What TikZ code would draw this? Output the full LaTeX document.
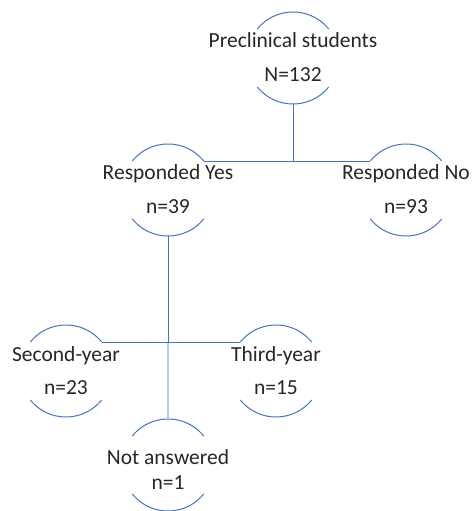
\documentclass[tikz,border=0pt]{standalone}
\usepackage{fontspec}
\setmainfont{Carlito}
\definecolor{lineblue}{HTML}{4472C4}
\definecolor{lightblue}{HTML}{B8CBEE}
\definecolor{txtgray}{HTML}{262626}
\begin{document}
\begin{tikzpicture}[x=1pt,y=1pt,
  ring/.style={circle,minimum size=92pt,inner sep=0pt,outer sep=0pt,draw=none},
  arcline/.style={draw=lineblue,line width=1pt},
  conn/.style={draw=lineblue,line width=1pt},
  connlight/.style={draw=lightblue,line width=1.2pt},
  txt/.style={anchor=base,inner sep=0pt,text=txtgray,font=\fontsize{21.5}{26}\selectfont}]
\useasboundingbox (0,0) rectangle (472,511);
% ring nodes
\node[ring] (top) at (293,453) {};
\node[ring] (yes) at (168,321) {};
\node[ring] (no)  at (406,321) {};
\node[ring] (sec) at (66,140) {};
\node[ring] (thi) at (276,140) {};
\node[ring] (na)  at (168,46) {};
% arcs
\foreach \n in {top,yes,no,sec,thi,na}{
  \draw[arcline] (\n.39) arc[start angle=39,end angle=141,radius=46pt];
  \draw[arcline] (\n.219) arc[start angle=219,end angle=321,radius=46pt];
}
% texts
\node[txt] (top1) at (293,463) {Preclinical students};
\node[txt] (top2) at (293,429) {N=132};
\node[txt] (yes1) at (168,331) {Responded Yes};
\node[txt] (yes2) at (168,297) {n=39};
\node[txt] (no1)  at (406,331) {Responded No};
\node[txt] (no2)  at (406,297) {n=93};
\node[txt] (sec1) at (66,149) {Second-year};
\node[txt] (sec2) at (66,116) {n=23};
\node[txt] (thi1) at (276,149) {Third-year};
\node[txt] (thi2) at (276,116) {n=15};
\node[txt] (na1)  at (168,46) {Not answered};
\node[txt] (na2)  at (168,21) {n=1};
% connectors
\coordinate (j1) at (top.south |- yes.39);
\coordinate (j2) at (yes.south |- sec.39);
\draw[conn] (top.south) -- (j1);
\draw[conn] (yes.39) -- (no.141);
\draw[connlight] (j2) -- (na.north);
\draw[conn] (yes.south) -- (j2);
\draw[conn] (sec.39) -- (thi.141);
\end{tikzpicture}
\end{document}
